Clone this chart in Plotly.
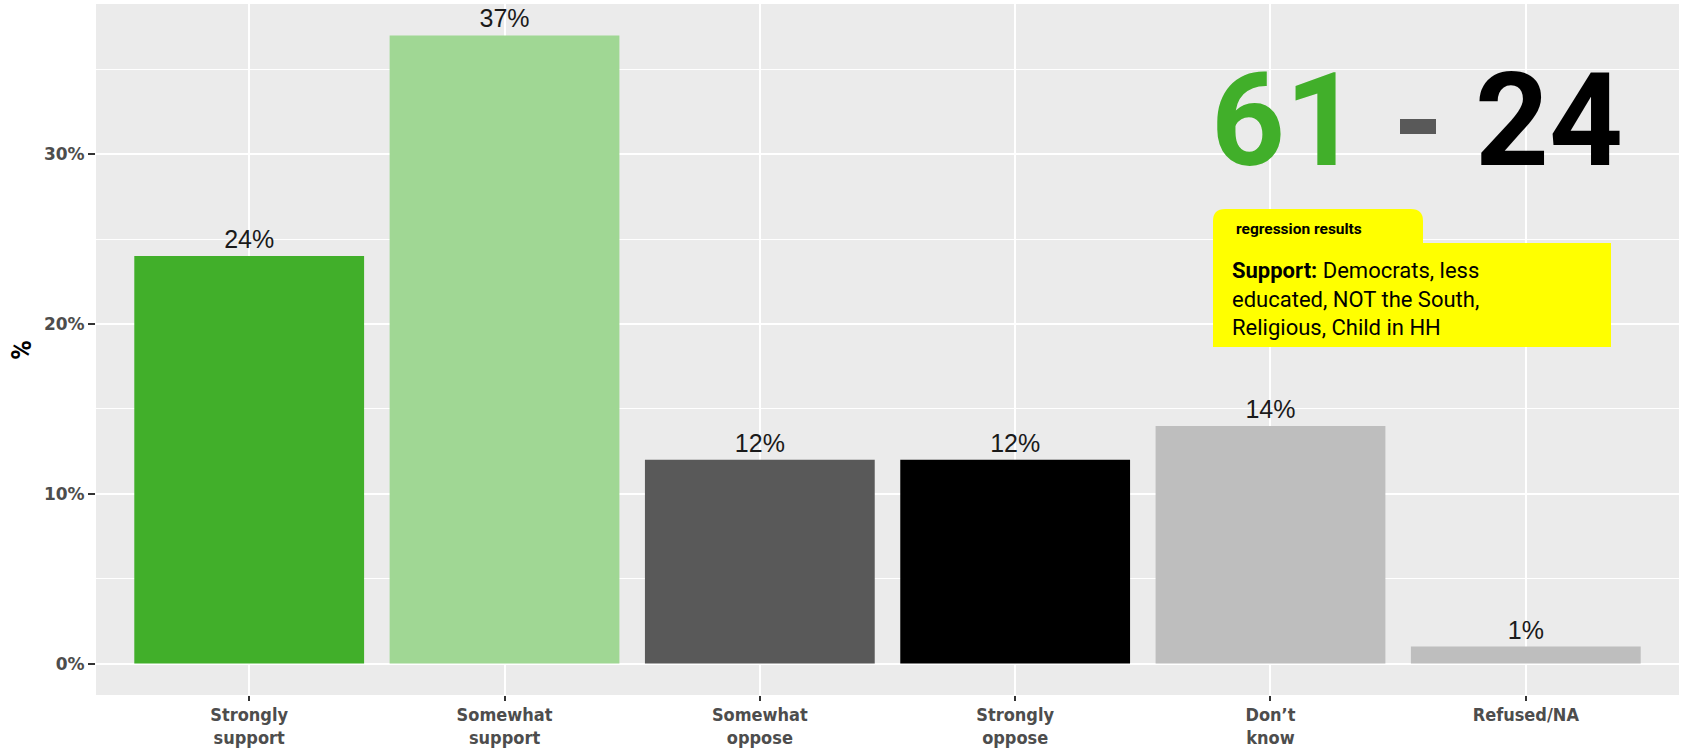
import plotly.graph_objects as go

categories = ["Strongly<br>support", "Somewhat<br>support", "Somewhat<br>oppose",
              "Strongly<br>oppose", "Don’t<br>know", "Refused/NA"]
values = [24, 37, 12, 12, 14, 1]
bar_colors = ["#41AF2A", "#A0D794", "#595959", "#000000", "#BEBEBE", "#BEBEBE"]
y_tickvals = [0, 10, 20, 30]
y_ticktext = ["0%", "10%", "20%", "30%"]
support_total = "61"
oppose_total = "24"

W, H = 1685, 749
L, R, T, B = 96, 6, 4, 54
PW, PH = W - L - R, H - T - B


def px(x):
    return (x - L) / PW


def py(y):
    return (H - B - y) / PH


fig = go.Figure()
fig.add_trace(go.Bar(
    x=list(range(len(categories))),
    y=values,
    width=0.9,
    marker=dict(color=bar_colors, line=dict(width=0)),
    text=[f"{v}%" for v in values],
    textposition="outside",
    textfont=dict(family="Liberation Sans, Arial, sans-serif", size=25, color="#1a1a1a"),
    cliponaxis=False,
    hoverinfo="skip",
))

fig.update_layout(
    width=W, height=H, autosize=False,
    margin=dict(l=L, r=R, t=T, b=B, pad=0),
    paper_bgcolor="white",
    plot_bgcolor="#EBEBEB",
    showlegend=False,
    bargap=0.1,
)

fig.update_xaxes(
    type="linear",
    automargin=False,
    range=[-0.6, len(categories) - 0.4],
    tickmode="array",
    tickvals=list(range(len(categories))),
    ticktext=categories,
    showgrid=True, gridcolor="white", gridwidth=2,
    zeroline=False, showline=False,
    ticks="outside", ticklen=5, tickwidth=2, tickcolor="#333333",
    ticklabelstandoff=-2,
    tickfont=dict(family="DejaVu Sans Condensed, Liberation Sans Narrow, sans-serif",
                  size=18, color="#4D4D4D", weight="bold"),
)

fig.update_yaxes(
    automargin=False,
    range=[-1.85, 38.85],
    tickmode="array",
    tickvals=y_tickvals,
    ticktext=y_ticktext,
    showgrid=True, gridcolor="white", gridwidth=2,
    minor=dict(tickmode="array", tickvals=[5, 15, 25, 35], showgrid=True,
               gridcolor="white", gridwidth=1, ticks=""),
    zeroline=False, showline=False,
    ticks="outside", ticklen=7, tickwidth=2, tickcolor="#333333",
    tickfont=dict(family="DejaVu Sans, sans-serif", size=17, color="#4D4D4D", weight="bold"),
)

# y axis title
fig.add_annotation(x=px(22), y=py(350), xref="paper", yref="paper", text="%",
                   textangle=-90, showarrow=False, xanchor="center", yanchor="middle",
                   font=dict(family="Roboto, sans-serif", size=27, color="black", weight="bold"))

# big numbers
fig.add_annotation(x=px(1285), y=py(120), xref="paper", yref="paper",
                   text=support_total, showarrow=False, xanchor="center", yanchor="middle",
                   font=dict(family="Roboto, sans-serif", size=129, color="#41AF2A", weight="bold"))
fig.add_annotation(x=px(1549), y=py(120), xref="paper", yref="paper",
                   text=oppose_total, showarrow=False, xanchor="center", yanchor="middle",
                   font=dict(family="Roboto, sans-serif", size=129, color="black", weight="bold"))
fig.add_shape(type="rect", xref="paper", yref="paper",
              x0=px(1400), x1=px(1436), y0=py(134), y1=py(119),
              fillcolor="#595959", line=dict(width=0), layer="above")

# yellow regression box with tab
r = 12
xl, xt, xr = 1213, 1423, 1611
yt, ym, yb = 209, 243, 347
path = (f"M {px(xl)} {py(yb)} L {px(xl)} {py(yt + r)} "
        f"Q {px(xl)} {py(yt)} {px(xl + r)} {py(yt)} "
        f"L {px(xt - r)} {py(yt)} Q {px(xt)} {py(yt)} {px(xt)} {py(yt + r)} "
        f"L {px(xt)} {py(ym)} L {px(xr)} {py(ym)} L {px(xr)} {py(yb)} Z")
fig.add_shape(type="path", path=path, xref="paper", yref="paper",
              fillcolor="#FFFF00", line=dict(width=0), layer="above")

fig.add_annotation(x=px(1234), y=py(229), xref="paper", yref="paper",
                   text="<b>regression results</b>", showarrow=False,
                   xanchor="left", yanchor="middle",
                   font=dict(family="Roboto, sans-serif", size=15.5, color="black"))
fig.add_annotation(x=px(1230), y=py(298.5), xref="paper", yref="paper",
                   text="<b>Support:</b> Democrats, less<br>educated, NOT the South,<br>Religious, Child in HH",
                   showarrow=False, xanchor="left", yanchor="middle", align="left",
                   font=dict(family="Roboto, sans-serif", size=22, color="black"))

fig.write_html("out.html",
               config={"displayModeBar": False},
               post_script="document.body.style.margin='0px';document.body.style.overflow='hidden';")
